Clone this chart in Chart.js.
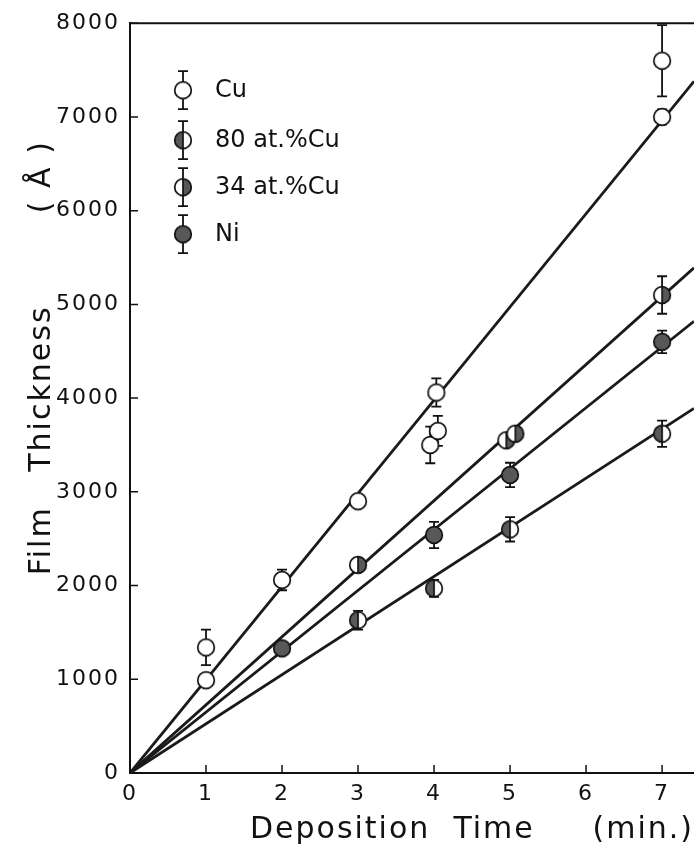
<!DOCTYPE html>
<html>
<head>
<meta charset="utf-8">
<script src="https://cdn.jsdelivr.net/npm/chart.js@4.4.1/dist/chart.umd.min.js"></script>
<style>
  html, body { margin: 0; padding: 0; background: #fff; }
</style>
</head>
<body>
<canvas id="c" width="694" height="858"></canvas>
<script>
// values (time in min, thickness in Angstrom, +/- error)
const cuX   = [1, 1, 2, 3, 3.95, 4.03, 4.05, 7, 7];
const cuY   = [990, 1340, 2060, 2900, 3500, 4060, 3650, 7000, 7600];
const cuErr = [50, 190, 110, 70, 195, 150, 160, 80, 380];

const cu80X   = [3, 4, 5, 7];
const cu80Y   = [1630, 1970, 2600, 3620];
const cu80Err = [100, 90, 130, 140];

const cu34X   = [3, 4.95, 5.07, 7];
const cu34Y   = [2220, 3550, 3620, 5100];
const cu34Err = [70, 60, 70, 200];

const niX   = [2, 4, 5, 7];
const niY   = [1330, 2540, 3180, 4600];
const niErr = [70, 140, 130, 120];

// fitted straight lines through the origin, end points at the right edge
const fitX    = [0, 7.42];
const fitCu   = [0, 7380];
const fit34   = [0, 5390];
const fitNi   = [0, 4820];
const fit80   = [0, 3890];

const xTicks = [0, 1, 2, 3, 4, 5, 6, 7];
const yTicks = [0, 1000, 2000, 3000, 4000, 5000, 6000, 7000, 8000];

const legendNames = ['Cu', '80 at.%Cu', '34 at.%Cu', 'Ni'];

function marker(kind) {
  const c = document.createElement('canvas');
  c.width = 22; c.height = 22;
  const g = c.getContext('2d');
  const cx = 11, cy = 11, r = 8.3;
  g.fillStyle = '#fff';
  g.beginPath(); g.arc(cx, cy, r, 0, Math.PI * 2); g.fill();
  g.fillStyle = '#585858';
  if (kind === 'full') {
    g.beginPath(); g.arc(cx, cy, r, 0, Math.PI * 2); g.fill();
  } else if (kind === 'left') {
    g.beginPath(); g.moveTo(cx, cy - r); g.arc(cx, cy, r, -Math.PI / 2, Math.PI / 2, true); g.closePath(); g.fill();
  } else if (kind === 'right') {
    g.beginPath(); g.moveTo(cx, cy - r); g.arc(cx, cy, r, -Math.PI / 2, Math.PI / 2, false); g.closePath(); g.fill();
  }
  g.strokeStyle = '#111';
  g.lineWidth = 1.7;
  g.beginPath(); g.arc(cx, cy, r, 0, Math.PI * 2); g.stroke();
  if (kind === 'left' || kind === 'right') {
    g.beginPath(); g.moveTo(cx, cy - r); g.lineTo(cx, cy + r); g.stroke();
  }
  return c;
}

const symbols = {
  cu: marker('open'),
  cu80: marker('left'),
  cu34: marker('right'),
  ni: marker('full')
};

function pts(xs, ys) { return xs.map((x, i) => ({x: x, y: ys[i]})); }

function points(name, xs, ys, errs, sym) {
  return {
    type: 'scatter',
    label: name,
    data: pts(xs, ys),
    errs: errs,
    pointStyle: sym,
    pointRadius: 9,
    order: 1
  };
}

function fit(ys) {
  return {
    type: 'line',
    data: pts(fitX, ys),
    borderColor: '#1a1a1a',
    borderWidth: 2.8,
    pointRadius: 0,
    fill: false,
    order: 3
  };
}

const errorBars = {
  id: 'errorBars',
  beforeDatasetsDraw(chart) {
    const ctx = chart.ctx, xs = chart.scales.x, ys = chart.scales.y;
    ctx.save();
    ctx.strokeStyle = '#111';
    ctx.lineWidth = 1.8;
    chart.data.datasets.forEach(ds => {
      if (!ds.errs) return;
      ds.data.forEach((p, i) => {
        const px = xs.getPixelForValue(p.x);
        const top = ys.getPixelForValue(p.y + ds.errs[i]);
        const bot = ys.getPixelForValue(p.y - ds.errs[i]);
        ctx.beginPath();
        ctx.moveTo(px, top); ctx.lineTo(px, bot);
        ctx.moveTo(px - 5, top); ctx.lineTo(px + 5, top);
        ctx.moveTo(px - 5, bot); ctx.lineTo(px + 5, bot);
        ctx.stroke();
      });
    });
    ctx.restore();
  }
};

const frame = {
  id: 'frame',
  beforeDraw(chart) {
    chart.ctx.letterSpacing = '2px';
  },
  afterDraw(chart) {
    const ctx = chart.ctx, a = chart.chartArea;
    const xs = chart.scales.x, ys = chart.scales.y;
    ctx.save();
    ctx.letterSpacing = '0px';
    ctx.strokeStyle = '#111';
    ctx.lineWidth = 2;
    // top frame line
    ctx.beginPath(); ctx.moveTo(a.left, a.top); ctx.lineTo(a.right, a.top); ctx.stroke();
    // inward tick marks
    ctx.lineWidth = 1.5;
    ctx.beginPath();
    xTicks.forEach(v => {
      const px = xs.getPixelForValue(v);
      ctx.moveTo(px, a.bottom); ctx.lineTo(px, a.bottom - 8);
    });
    yTicks.forEach(v => {
      const py = ys.getPixelForValue(v);
      ctx.moveTo(a.left, py); ctx.lineTo(a.left + 8, py);
    });
    ctx.stroke();

    // legend in the upper left corner
    const syms = [symbols.cu, symbols.cu80, symbols.cu34, symbols.ni];
    const rows = [67, 117, 164, 211];
    ctx.font = '24px "DejaVu Sans"';
    ctx.textBaseline = 'middle';
    ctx.fillStyle = '#111';
    ctx.lineWidth = 1.8;
    syms.forEach((s, i) => {
      const cx = a.left + 53, cy = a.top + rows[i];
      ctx.beginPath();
      ctx.moveTo(cx, cy - 19); ctx.lineTo(cx, cy + 19);
      ctx.moveTo(cx - 5, cy - 19); ctx.lineTo(cx + 5, cy - 19);
      ctx.moveTo(cx - 5, cy + 19); ctx.lineTo(cx + 5, cy + 19);
      ctx.stroke();
      ctx.drawImage(s, cx - 11, cy - 11);
      ctx.fillText(legendNames[i], a.left + 85, cy + 1);
    });
    ctx.restore();
  }
};

new Chart(document.getElementById('c').getContext('2d'), {
  data: {
    datasets: [
      points('Cu', cuX, cuY, cuErr, symbols.cu),
      points('80 at.%Cu', cu80X, cu80Y, cu80Err, symbols.cu80),
      points('34 at.%Cu', cu34X, cu34Y, cu34Err, symbols.cu34),
      points('Ni', niX, niY, niErr, symbols.ni),
      fit(fitCu),
      fit(fit34),
      fit(fitNi),
      fit(fit80)
    ]
  },
  options: {
    responsive: false,
    animation: false,
    layout: { autoPadding: false, padding: { top: 17, right: 0, left: 0, bottom: 0 } },
    plugins: {
      legend: { display: false },
      tooltip: { enabled: false }
    },
    scales: {
      x: {
        type: 'linear',
        min: 0,
        max: 7.42,
        afterFit: s => { s.height = 85; s.paddingRight = 0; },
        grid: { display: false, drawTicks: false },
        border: { display: true, color: '#111', width: 2 },
        ticks: {
          stepSize: 1,
          includeBounds: false,
          autoSkip: false,
          maxRotation: 0,
          padding: 8,
          color: '#111',
          font: { family: '"DejaVu Sans"', size: 22 },
          callback: v => String(v)
        },
        title: {
          display: true,
          align: 'end',
          text: 'Deposition  Time     (min.)',
          color: '#111',
          font: { family: '"DejaVu Sans"', size: 30 },
          padding: { top: 0, bottom: 10 }
        }
      },
      y: {
        type: 'linear',
        min: 0,
        max: 8000,
        afterFit: s => { s.width = 130; },
        grid: { display: false, drawTicks: false },
        border: { display: true, color: '#111', width: 2 },
        ticks: {
          stepSize: 1000,
          padding: 10,
          color: '#111',
          font: { family: '"DejaVu Sans"', size: 22 },
          callback: v => String(v)
        },
        title: {
          display: true,
          text: '       Film   Thickness        ( Å )',
          color: '#111',
          font: { family: '"DejaVu Sans"', size: 30 },
          padding: { top: 24, bottom: 0 }
        }
      }
    }
  },
  plugins: [errorBars, frame]
});
</script>
</body>
</html>
